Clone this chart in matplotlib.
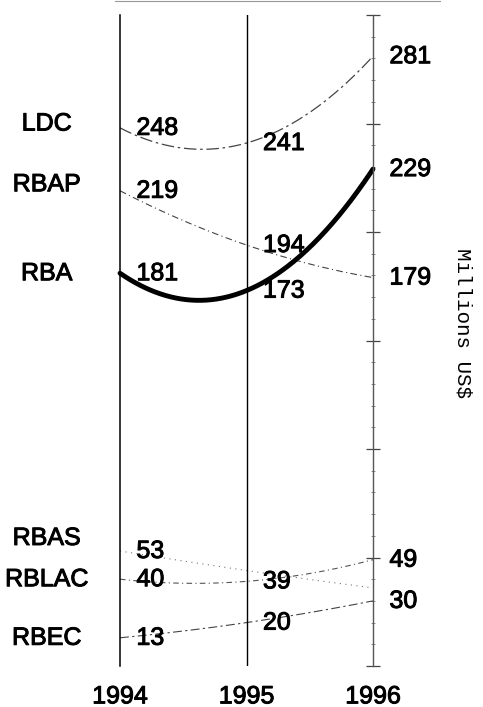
import numpy as np
import matplotlib.pyplot as plt
import matplotlib.patheffects as pe
from matplotlib.lines import Line2D

plt.rcParams['font.family'] = ['Liberation Sans', 'DejaVu Sans']

years = [1994, 1995, 1996]
names = ["LDC", "RBAP", "RBA", "RBAS", "RBLAC", "RBEC"]
ldc = [248, 241, 281]
rbap = [219, 194, 179]
rba = [181, 173, 229]
rbas = [53, 44, 36]
rblac = [40, 39, 49]
rbec = [13, 20, 30]
series = [ldc, rbap, rba, rbas, rblac, rbec]

# value labels printed in the source (some are hidden behind others)
shown = [[1, 1, 1], [1, 1, 1], [1, 1, 1], [1, 0, 0], [1, 1, 1], [1, 1, 1]]

styles = [
    dict(color='#444444', lw=0.9, dashes=(10, 3, 2, 3)),
    dict(color='#444444', lw=0.8, dashes=(6, 3, 1, 3)),
    dict(color='black', lw=3.5, solid_capstyle='round'),
    dict(color='#777777', lw=0.8, dashes=(1, 4)),
    dict(color='#555555', lw=0.8, dashes=(5, 3, 1, 3)),
    dict(color='#444444', lw=0.8, dashes=(8, 3, 2, 3)),
]
name_shift = [2, 3, 0, 6, 0, 0]
thick = [pe.withStroke(linewidth=0.7, foreground='black')]

fig = plt.figure(figsize=(4.83, 7.07), dpi=100)
ax = fig.add_axes([120 / 483, 41 / 707, 253 / 483, 651 / 707])
ax.set_xlim(1994, 1996)
ax.set_ylim(0, 300)

xs = np.linspace(1994, 1996, 200)
for vals, st in zip(series, styles):
    c = np.polyfit(np.array(years) - 1994, vals, 2)
    ax.plot(xs, np.polyval(c, xs - 1994), clip_on=False, **st)

ax.axvline(1995, color='black', lw=1)

for i, vals in enumerate(series):
    for j, v in enumerate(vals):
        if shown[i][j]:
            ax.text(years[j] + 0.13, v, str(v), ha='left', va='center',
                    fontsize=18, clip_on=False, path_effects=thick)
    ax.text(1993.42, vals[0] + name_shift[i], names[i], ha='center',
            va='center', fontsize=18, clip_on=False, path_effects=thick)

for y in years:
    ax.text(y, -14, str(y), ha='center', va='center', fontsize=18,
            clip_on=False, path_effects=thick)

ax.text(1996.71, 158, "Millions US$", rotation=270, ha='center', va='center',
        fontsize=15, family=['Liberation Mono', 'DejaVu Sans Mono'])

for s in ['top', 'bottom']:
    ax.spines[s].set_visible(False)
ax.spines['left'].set_color('black')
ax.spines['left'].set_linewidth(1.1)
ax.spines['right'].set_color('#555555')
ax.spines['right'].set_linewidth(1.0)

ax.set_xticks([])
ax.yaxis.tick_right()
ax.set_yticks(range(0, 301, 50))
ax.set_yticks(range(0, 301, 10), minor=True)
ax.set_yticklabels([])
ax.tick_params(axis='y', which='major', direction='inout', length=10,
               width=0.9, color='#444444')
ax.tick_params(axis='y', which='minor', direction='inout', length=3,
               width=0.6, color='#777777')

fig.add_artist(Line2D([115 / 483, 440 / 483], [0.998, 0.998],
                      color='#999999', lw=0.8))

fig.savefig('out.png', dpi=100)
